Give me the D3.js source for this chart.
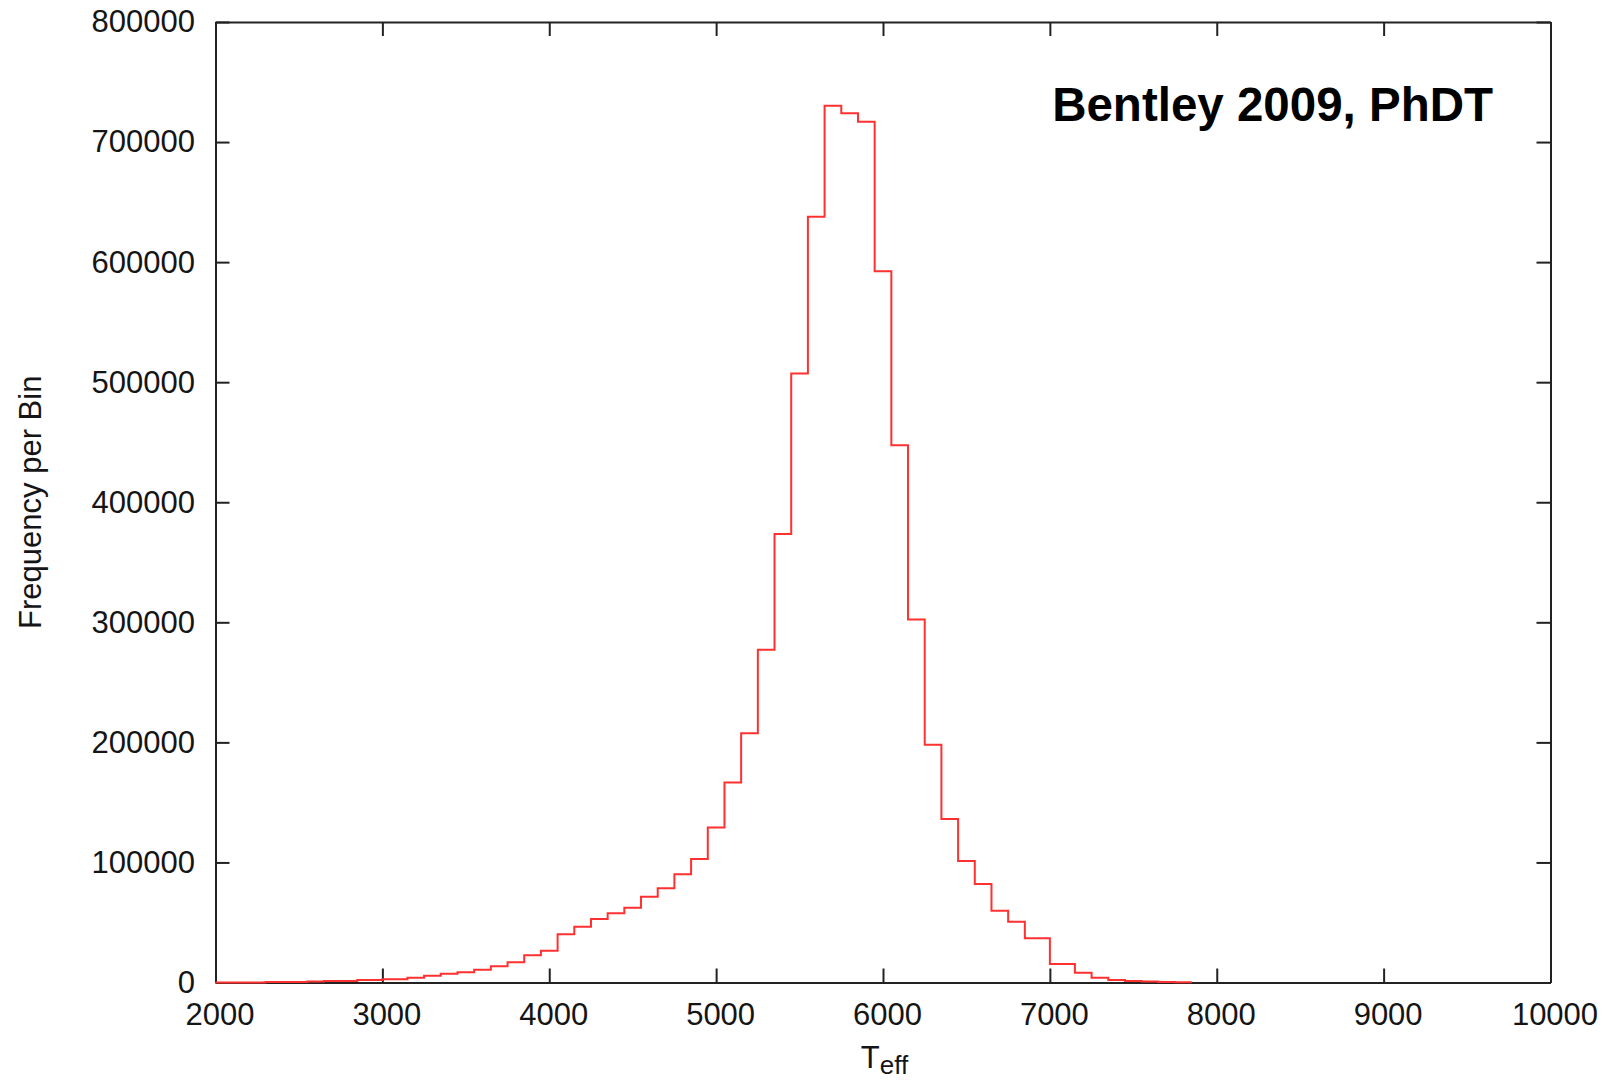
<!DOCTYPE html>
<html>
<head>
<meta charset="utf-8">
<script src="https://cdn.jsdelivr.net/npm/d3@7"></script>
<style>
  html, body { margin: 0; padding: 0; background: #ffffff; }
  svg { display: block; }
  text { font-family: "Liberation Sans", Arial, Helvetica, sans-serif; }
</style>
</head>
<body>
<svg id="chart" width="1608" height="1080"></svg>
<script>
// ---- data ----
const binEdges = [2000, 2300, 2550, 2650, 2850, 3000, 3150, 3250, 3350, 3450, 3550, 3650, 3750, 3850, 3950,
  4050, 4150, 4250, 4350, 4450, 4550, 4650, 4750, 4850, 4950, 5050, 5150, 5250, 5350, 5450,
  5550, 5650, 5750, 5850, 5950, 6050, 6150, 6250, 6350, 6450, 6550, 6650, 6750, 6850,
  7000, 7150, 7250, 7350, 7450, 7550, 7650, 7750, 7850];
const binCounts = [100, 500, 900, 1300, 2000, 2700, 4000, 5700, 7300, 8500, 10700, 13500, 16800, 22700,
  26500, 40200, 46500, 52900, 57700, 62300, 71500, 78500, 90200, 102900, 129000, 166500, 207700,
  277100, 373500, 507200, 637700, 730200, 723900, 716900, 592500, 447500, 302300, 198100,
  136200, 101200, 82100, 59800, 50700, 36800, 15400, 8200, 4000, 2100, 1200, 800, 500, 300];
const xTicks = [2000, 3000, 4000, 5000, 6000, 7000, 8000, 9000, 10000];
const yTicks = [0, 100000, 200000, 300000, 400000, 500000, 600000, 700000, 800000];
const xDomain = [2000, 10000];
const yDomain = [0, 800000];
const yTitle = "Frequency per Bin";
const xTitleMain = "T";
const xTitleSub = "eff";
const annotation = "Bentley 2009, PhDT";

// ---- layout ----
const plotL = 215.5, plotR = 1550.5, plotT = 22, plotB = 982.5;
const svg = d3.select("#chart");

const x = d3.scaleLinear().domain(xDomain).range([plotL, plotR]);
const y = d3.scaleLinear().domain(yDomain).range([plotB, plotT]);

const axisColor = "#222";
const tickLen = 14;

function styleAxis(g) {
  g.selectAll("path.domain").attr("stroke", axisColor).attr("stroke-width", 2);
  g.selectAll(".tick line").attr("stroke", axisColor).attr("stroke-width", 2);
  g.selectAll(".tick text").attr("fill", "#151515")
    .style("font-family", '"Liberation Sans", Arial, Helvetica, sans-serif')
    .style("font-size", "31px");
}

// bottom axis with labels
svg.append("g").attr("transform", `translate(0,${plotB})`)
  .call(d3.axisBottom(x).tickValues(xTicks).tickFormat(d3.format("d"))
    .tickSizeInner(-tickLen).tickSizeOuter(0).tickPadding(20.5))
  .call(styleAxis)
  .call(g => g.selectAll(".tick text").attr("x", 4));
// top axis (mirror ticks)
svg.append("g").attr("transform", `translate(0,${plotT})`)
  .call(d3.axisTop(x).tickValues(xTicks).tickFormat("")
    .tickSizeInner(-tickLen).tickSizeOuter(0))
  .call(styleAxis);
// left axis with labels
svg.append("g").attr("transform", `translate(${plotL},0)`)
  .call(d3.axisLeft(y).tickValues(yTicks).tickFormat(d3.format("d"))
    .tickSizeInner(-tickLen).tickSizeOuter(0).tickPadding(20.5))
  .call(styleAxis);
// right axis (mirror ticks)
svg.append("g").attr("transform", `translate(${plotR},0)`)
  .call(d3.axisRight(y).tickValues(yTicks).tickFormat("")
    .tickSizeInner(-tickLen).tickSizeOuter(0))
  .call(styleAxis);

// ---- histogram step line ----
const pts = binCounts.map((c, i) => ({ t: binEdges[i], c: c }));
pts.push({ t: binEdges[binEdges.length - 1], c: binCounts[binCounts.length - 1] });

const line = d3.line().x(d => x(d.t)).y(d => y(d.c)).curve(d3.curveStepAfter);
svg.append("path")
  .datum(pts)
  .attr("d", line)
  .attr("fill", "none")
  .attr("stroke", "#ff3030")
  .attr("stroke-width", 2)
  .attr("stroke-linejoin", "miter");

// ---- titles ----
svg.append("text")
  .attr("transform", `translate(41,${(plotT + plotB) / 2}) rotate(-90)`)
  .attr("text-anchor", "middle")
  .attr("fill", "#151515")
  .style("font-size", "31px")
  .text(yTitle);

const xt = svg.append("text")
  .attr("x", 884.5)
  .attr("y", 1068)
  .attr("text-anchor", "middle")
  .attr("fill", "#151515")
  .style("font-size", "31px");
xt.append("tspan").text(xTitleMain);
xt.append("tspan").attr("dy", 6).style("font-size", "26px").text(xTitleSub);

svg.append("text")
  .attr("x", 1493)
  .attr("y", 121)
  .attr("text-anchor", "end")
  .attr("fill", "#000")
  .style("font-size", "47.5px")
  .style("font-weight", "bold")
  .text(annotation);
</script>
</body>
</html>
